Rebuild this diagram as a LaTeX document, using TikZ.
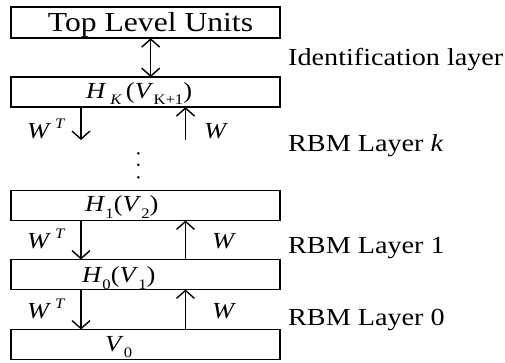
\documentclass[tikz,border=0pt]{standalone}
\usepackage{fontspec}
\setmainfont[FakeStretch=1.15]{Liberation Serif}
\usetikzlibrary{arrows.meta,calc}

% lowered subscript / raised superscript in a smaller size
\newcommand\lowsub[1]{\raisebox{-0.28em}{\fontsize{14.5}{14.5}\selectfont #1}}
\newcommand\highsup[1]{\raisebox{0.42em}{\fontsize{14.5}{14.5}\selectfont #1}}

\begin{document}
\begin{tikzpicture}[x=1pt,y=-1pt,
  layerbox/.style={draw, line width=1.6pt, minimum width=269pt, minimum height=30pt,
                   inner sep=0pt, outer sep=0pt},
  arr/.style={line width=1.4pt, -{Straight Barb[length=8pt,width=18pt,line width=1.4pt]}},
  twoarr/.style={line width=1.4pt, {Straight Barb[length=8pt,width=18pt,line width=1.4pt]}-{Straight Barb[length=8pt,width=18pt,line width=1.4pt]}},
  boxtext/.style={anchor=base west, inner sep=0pt, font=\fontsize{23}{23}\selectfont},
  wtext/.style={anchor=base west, inner sep=0pt, font=\fontsize{23}{23}\selectfont},
  sidetext/.style={anchor=base west, inner sep=0pt, font=\fontsize{24.5}{24.5}\selectfont}]
\useasboundingbox (0,0) rectangle (505,362);

% layer boxes
\node[layerbox, minimum height=31pt] (top) at (145.5,22.7) {};
\node[layerbox] (hk) at (145.5,92.1) {};
\node[layerbox] (h1) at (145.5,205.5) {};
\node[layerbox] (h0) at (145.5,274.5) {};
\node[layerbox] (v0) at (145.5,344.5) {};

% box captions
\node[anchor=base, inner sep=0pt, font=\fontsize{27.5}{27.5}\selectfont] (toptxt) at (150.5,31.7) {Top Level Units};
\node[boxtext] (hktxt) at (86,98.5) {\textit{H}\,\lowsub{\textit{K}}\,(\textit{V}\lowsub{K+1})};
\node[boxtext] (h1txt) at (85,211.7) {\textit{H}\lowsub{1}(\textit{V}\lowsub{2})};
\node[boxtext] (h0txt) at (82,282.7) {\textit{H}\lowsub{0}(\textit{V}\lowsub{1})};
\node[boxtext] (v0txt) at (105,351) {\textit{V}\lowsub{0}};

% x positions of the connectors
\coordinate (dnx) at (81,0);
\coordinate (upx) at (185.5,0);
\coordinate (midx) at (150.7,0);
\coordinate (dnend) at (81,140);
\coordinate (upstart) at (185.5,140);

% identification layer link
\draw[twoarr] (top.south -| midx) -- (hk.north -| midx);

% RBM layer k
\draw[arr] (hk.south -| dnx) -- (dnend);
\draw[arr] (upstart) -- (hk.south -| upx);

% continuation dots
\foreach \yy in {153.3,164.8,177.3}
  \fill (138.3,\yy) circle (1.4pt);

% RBM layer 1
\draw[arr] (h1.south -| dnx) -- (h0.north -| dnx);
\draw[arr] (h0.north -| upx) -- (h1.south -| upx);

% RBM layer 0
\draw[arr] (h0.south -| dnx) -- (v0.north -| dnx);
\draw[arr] (v0.north -| upx) -- (h0.south -| upx);

% weight labels
\node[wtext] (wt2) at (27,138.3) {\textit{W}\,\highsup{\textit{T}}};
\node[wtext] (w2) at (204,138.3) {\textit{W}};
\node[wtext] (wt1) at (27,248.3) {\textit{W}\,\highsup{\textit{T}}};
\node[wtext] (w1) at (212,248.3) {\textit{W}};
\node[wtext] (wt0) at (27,318.3) {\textit{W}\,\highsup{\textit{T}}};
\node[wtext] (w0) at (212,318.3) {\textit{W}};

% layer names
\node[sidetext] (idl) at (288,65) {Identification layer};
\node[sidetext] (rbmk) at (288,151) {RBM Layer \textit{k}};
\node[sidetext] (rbm1) at (288,253) {RBM Layer 1};
\node[sidetext] (rbm0) at (288,325) {RBM Layer 0};
\end{tikzpicture}
\end{document}
